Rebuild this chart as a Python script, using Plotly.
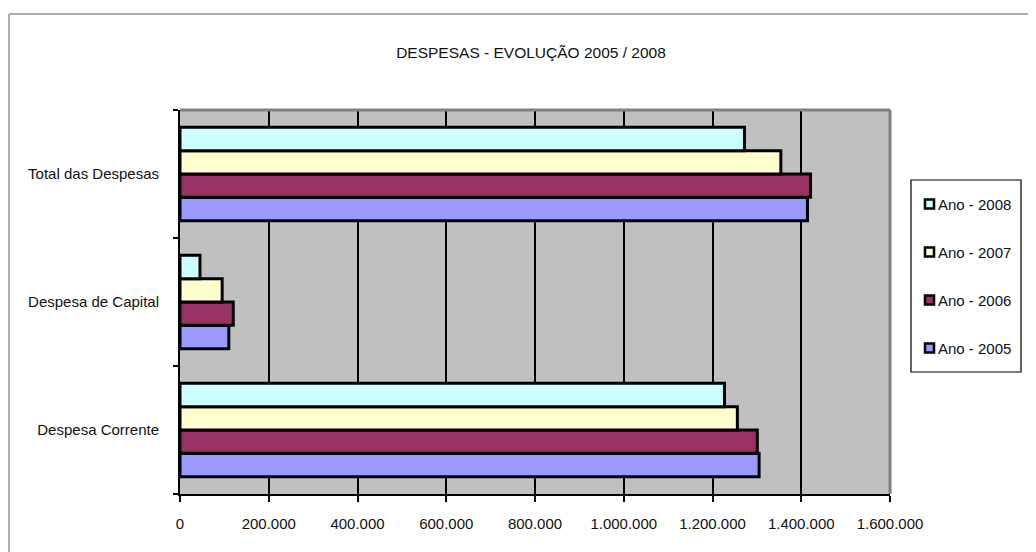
import plotly.graph_objects as go

categories = ["Despesa Corrente", "Despesa de Capital", "Total das Despesas"]
years = ["Ano - 2005", "Ano - 2006", "Ano - 2007", "Ano - 2008"]
v2005 = [1305000, 110000, 1414000]
v2006 = [1301000, 120000, 1421000]
v2007 = [1256000, 95000, 1354000]
v2008 = [1227000, 45000, 1272000]
series = [v2005, v2006, v2007, v2008]
colors = ["#9999FF", "#993366", "#FFFFCC", "#CCFFFF"]

FONT = "Liberation Sans, Arial, sans-serif"
TXT = "#111111"

# page offset: figure is drawn 8px inside the page; helpers map page pixels to paper coords
L, T, R, B = 180, 110, 890, 494
def px(sx):
    return (sx - L) / (R - L)
def py(sy):
    return (B - sy) / (B - T)

fig = go.Figure()
for name, vals, col in zip(years, series, colors):
    fig.add_trace(go.Bar(
        y=categories, x=vals, name=name, orientation="h",
        marker=dict(color=col, line=dict(color="black", width=3)),
        showlegend=False,
    ))

shapes = [
    dict(type="line", xref="paper", yref="paper", x0=0, x1=1, y0=1, y1=1,
         line=dict(color="#808080", width=3)),
    dict(type="line", xref="paper", yref="paper", x0=1, x1=1, y0=0, y1=1,
         line=dict(color="#808080", width=3)),
    dict(type="line", xref="paper", yref="paper", x0=px(9), x1=px(1100),
         y0=py(14), y1=py(14), line=dict(color="#A8B0B0", width=2)),
    dict(type="line", xref="paper", yref="paper", x0=px(9), x1=px(9),
         y0=py(14), y1=py(600), line=dict(color="#A8B0B0", width=2)),
    # legend box
    dict(type="rect", xref="paper", yref="paper", x0=px(911), x1=px(1021),
         y0=py(372), y1=py(180), line=dict(color="black", width=1.2), fillcolor="white"),
]
annotations = []
legend_centers = [348, 300, 252, 204]  # 2005 .. 2008
for name, col, cy in zip(years, colors, legend_centers):
    shapes.append(dict(type="rect", xref="paper", yref="paper",
                       x0=px(925), x1=px(934), y0=py(cy + 4.5), y1=py(cy - 4.5),
                       line=dict(color="black", width=2.5), fillcolor=col))
    annotations.append(dict(text=name, xref="paper", yref="paper", x=px(936), y=py(cy),
                            xanchor="left", yanchor="middle", showarrow=False,
                            font=dict(family=FONT, size=15, color=TXT)))

fig.update_layout(
    width=1028, height=544,
    margin=dict(l=172, r=146, t=102, b=58, autoexpand=False),
    paper_bgcolor="white", plot_bgcolor="#C0C0C0",
    barmode="group", bargap=0.27, bargroupgap=0,
    separators=",.",
    showlegend=False,
    font=dict(family=FONT, size=15, color=TXT),
    title=dict(text="DESPESAS - EVOLUÇÃO 2005 / 2008", x=523 / 1028, xanchor="center",
               y=1 - 45 / 544, yanchor="middle", font=dict(family=FONT, size=15.5, color=TXT)),
    xaxis=dict(range=[0, 1600000], dtick=200000, tick0=0, tickformat=",d",
               showgrid=True, gridcolor="black", gridwidth=2,
               showline=True, linecolor="black", linewidth=2,
               ticks="outside", ticklen=6, tickwidth=2, tickcolor="black",
               ticklabelstandoff=9, zeroline=False, fixedrange=True),
    yaxis=dict(type="category", categoryorder="array", categoryarray=categories,
               showgrid=False, showline=True, linecolor="black", linewidth=2,
               ticks="outside", tickson="boundaries", ticklen=5, tickwidth=2, tickcolor="black",
               ticklabelstandoff=16, zeroline=False),
    shapes=shapes,
    annotations=annotations,
)

fig.write_html("out.html")
